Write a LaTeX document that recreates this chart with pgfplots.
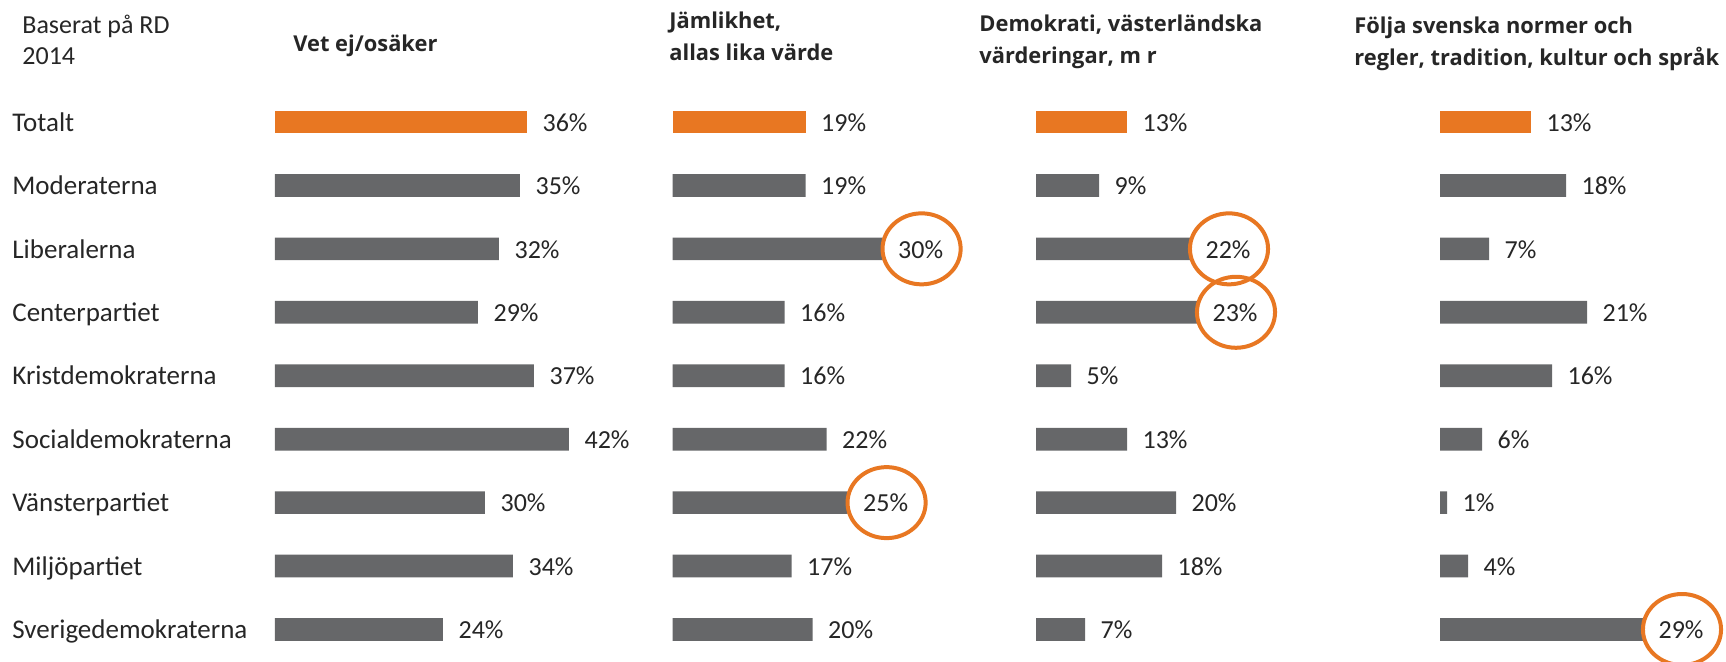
\documentclass[border=0pt]{standalone}
\usepackage{fontspec}
\setmainfont{Carlito}
\newfontfamily\titlefont{Open Sans}
\usepackage{pgfplots}
\pgfplotsset{compat=1.18}
\definecolor{barorange}{HTML}{E87722}
\definecolor{bargray}{HTML}{666769}
\definecolor{txt}{HTML}{262626}

\pgfplotsset{
 panel/.style={
  scale only axis, width=175pt, height=285.5pt,
  xmin=0, xmax=50, ymin=-0.5, ymax=8.5, y dir=reverse,
  axis line style={draw=none}, tick style={draw=none},
  xtick=\empty, ytick=\empty, clip=false, anchor=south west,
 },
 bars/.style={xbar, bar width=11.35pt, bar shift=0pt, draw=none, fill=#1, point meta=x,
   nodes near coords={\pgfmathprintnumber[assume math mode=true]{\pgfplotspointmeta}\%},
   every node near coord/.append style={anchor=base west, inner sep=0pt, xshift=7.6pt, yshift=-4.6pt,
     font=\fontsize{13}{15}\selectfont, text=txt}},
 ring/.style={only marks, mark=o, mark size=17.75pt,
   mark options={draw=barorange, line width=2pt, xshift=19.5pt, xscale=1.1}},
}
\tikzset{ttl/.style={anchor=base west, inner sep=0pt, text=txt, font=\titlefont\bfseries\fontsize{10.93}{14}\selectfont}}

\begin{document}
\begin{tikzpicture}
\useasboundingbox (0,0) rectangle (863pt,330.5pt);

% Panel 1
\begin{axis}[panel, at={(137.5pt,-0.11pt)},
  ytick={0,...,8},
  yticklabels={Totalt,Moderaterna,Liberalerna,Centerpartiet,Kristdemokraterna,Socialdemokraterna,Vänsterpartiet,Miljöpartiet,Sverigedemokraterna},
  yticklabel style={anchor=base west, inner sep=0pt, xshift=-131.5pt, yshift=-4.6pt,
    font=\fontsize{13.5}{16}\selectfont, text=txt}]
\addplot[bars=barorange] coordinates {(36,0)};
\addplot[bars=bargray] coordinates {(35,1) (32,2) (29,3) (37,4) (42,5) (30,6) (34,7) (24,8)};
\end{axis}

% Panel 2
\begin{axis}[panel, at={(336.3pt,-0.11pt)}]
\addplot[bars=barorange] coordinates {(19,0)};
\addplot[bars=bargray] coordinates {(19,1) (30,2) (16,3) (16,4) (22,5) (25,6) (17,7) (20,8)};
\addplot[ring] coordinates {(30,2) (25,6)};
\end{axis}

% Panel 3
\begin{axis}[panel, at={(518pt,-0.11pt)}]
\addplot[bars=barorange] coordinates {(13,0)};
\addplot[bars=bargray] coordinates {(9,1) (22,2) (23,3) (5,4) (13,5) (20,6) (18,7) (7,8)};
\addplot[ring] coordinates {(22,2) (23,3)};
\end{axis}

% Panel 4
\begin{axis}[panel, at={(720pt,-0.11pt)}]
\addplot[bars=barorange] coordinates {(13,0)};
\addplot[bars=bargray] coordinates {(18,1) (7,2) (21,3) (16,4) (6,5) (1,6) (4,7) (29,8)};
\addplot[ring] coordinates {(29,8)};
\end{axis}

% Titles
\node[anchor=base west, inner sep=0pt, text=txt, font=\fontsize{13}{15}\selectfont] at (11pt,314pt) {Baserat på RD};
\node[anchor=base west, inner sep=0pt, text=txt, font=\fontsize{13}{15}\selectfont] at (11pt,298.5pt) {2014};
\node[ttl] at (146.5pt,304.7pt) {Vet ej/osäker};
\node[ttl] at (334.5pt,316.5pt) {Jämlikhet,};
\node[ttl] at (334.5pt,300.5pt) {allas lika värde};
\node[ttl] at (489.5pt,314.7pt) {Demokrati, västerländska};
\node[ttl] at (489.5pt,299pt) {värderingar, m r};
\node[ttl] at (677pt,314pt) {Följa svenska normer och};
\node[ttl] at (677pt,298pt) {regler, tradition, kultur och språk};
\end{tikzpicture}
\end{document}
